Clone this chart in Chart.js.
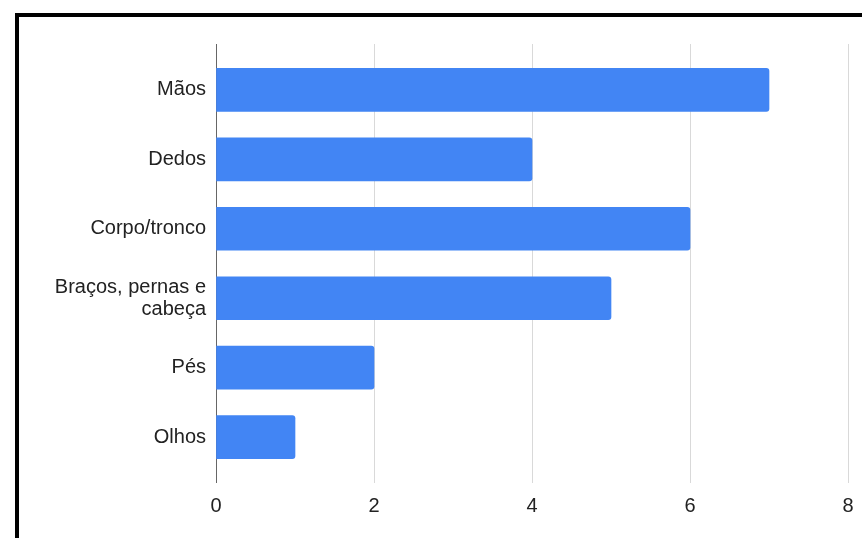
<!DOCTYPE html>
<html>
<head>
<meta charset="utf-8">
<script src="https://cdn.jsdelivr.net/npm/chart.js@4/dist/chart.umd.min.js"></script>
<style>
  html, body { margin: 0; padding: 0; background: #fff; }
  #wrap { position: relative; width: 862px; height: 538px; overflow: hidden; }
  #c { position: absolute; left: 0; top: 0; }
  #frame { position: absolute; left: 15px; top: 13px; width: 900px; height: 600px;
           border-left: 4px solid #000; border-top: 4px solid #000; pointer-events: none; }
</style>
</head>
<body>
<div id="wrap">
  <canvas id="c" width="862" height="538"></canvas>
  <div id="frame"></div>
</div>
<script>
const categories = ["Mãos", "Dedos", "Corpo/tronco", "Braços, pernas e cabeça", "Pés", "Olhos"];
const values = [7, 4, 6, 5, 2, 1];
const xTicks = [0, 2, 4, 6, 8];

function wrapLabel(s, maxLen) {
  const words = s.split(" ");
  const lines = [];
  let cur = "";
  for (const w of words) {
    const t = cur ? cur + " " + w : w;
    if (t.length > maxLen && cur) { lines.push(cur); cur = w; } else { cur = t; }
  }
  if (cur) lines.push(cur);
  return lines.length === 1 ? lines[0] : lines;
}

const font = { family: "'Liberation Sans', Arial, sans-serif", size: 20 };

new Chart(document.getElementById("c"), {
  type: "bar",
  data: {
    datasets: [{
      data: values.map((v, i) => ({ x: v, y: i })),
      backgroundColor: "#4285F4",
      borderWidth: 0,
      borderRadius: 3,
      borderSkipped: "start",
      barThickness: 43
    }]
  },
  options: {
    indexAxis: "y",
    responsive: false,
    animation: false,
    layout: { padding: { top: 44, right: 14, left: 0, bottom: 0 } },
    plugins: { legend: { display: false }, tooltip: { enabled: false } },
    scales: {
      x: {
        type: "linear",
        min: xTicks[0],
        max: xTicks[xTicks.length - 1],
        offset: false,
        afterBuildTicks: s => { s.ticks = xTicks.map(v => ({ value: v })); },
        afterFit: s => { s.height = 55; s.paddingRight = 0; s.paddingLeft = 0; },
        grid: {
          color: ctx => (ctx.tick && ctx.tick.value === 0) ? "#666666" : "#d9d9d9",
          lineWidth: 1,
          drawTicks: false,
          offset: false
        },
        border: { display: false },
        ticks: { font: font, color: "#222", padding: 11 }
      },
      y: {
        type: "linear",
        reverse: true,
        offset: false,
        min: -0.66,
        max: categories.length - 1 + 0.66,
        afterBuildTicks: s => { s.ticks = categories.map((_, i) => ({ value: i })); },
        afterFit: s => { s.width = 216; },
        grid: { display: false, drawTicks: false, offset: false },
        border: { display: false },
        ticks: {
          autoSkip: false,
          font: Object.assign({}, font, { lineHeight: 1.1 }),
          color: "#222",
          padding: 10,
          callback: v => Number.isInteger(v) && categories[v] !== undefined ? wrapLabel(categories[v], 16) : ""
        }
      }
    }
  }
});
</script>
</body>
</html>
